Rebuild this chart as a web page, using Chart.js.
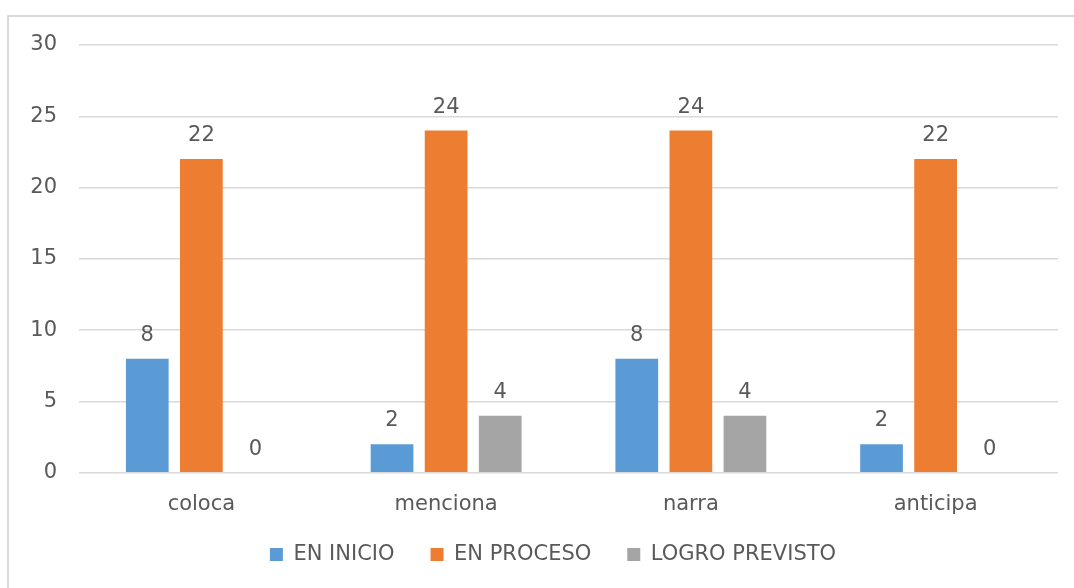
<!DOCTYPE html>
<html>
<head>
<meta charset="utf-8">
<script src="https://cdn.jsdelivr.net/npm/chart.js@4.4.1/dist/chart.umd.min.js"></script>
<style>
  html, body { margin: 0; padding: 0; background: #fff; }
  #wrap { position: relative; width: 1074px; height: 588px; overflow: hidden; }
  #frame { position: absolute; left: 7px; top: 15px; right: -20px; bottom: -20px;
           border-top: 2px solid #d9d9d9; border-left: 2px solid #d9d9d9; pointer-events: none; }
</style>
</head>
<body>
<div id="wrap">
  <canvas id="c" width="1074" height="588"></canvas>
  <div id="frame"></div>
</div>
<script>
const categories = ["coloca", "menciona", "narra", "anticipa"];
const enInicio = [8, 2, 8, 2];
const enProceso = [22, 24, 24, 22];
const logroPrevisto = [0, 4, 4, 0];
const seriesNames = ["EN INICIO", "EN PROCESO", "LOGRO PREVISTO"];
const yTicks = [0, 5, 10, 15, 20, 25, 30];

const TEXT = "#595959";
const FONT = "'DejaVu Sans', sans-serif";
const FS = 21;

const valueLabels = {
  id: "valueLabels",
  afterDatasetsDraw(chart) {
    const ctx = chart.ctx;
    ctx.save();
    ctx.fillStyle = TEXT;
    ctx.font = FS + "px " + FONT;
    ctx.textAlign = "center";
    ctx.textBaseline = "alphabetic";
    chart.data.datasets.forEach((ds, i) => {
      const meta = chart.getDatasetMeta(i);
      meta.data.forEach((el, j) => {
        ctx.fillText(String(ds.data[j]), el.x, el.y - 18);
      });
    });
    ctx.restore();
  }
};

const legendShift = {
  id: "legendShift",
  afterLayout(chart) {
    const l = chart.legend;
    if (l) { l.left += 24; l.right += 24; l.top -= 20; l.bottom -= 20; }
  }
};

new Chart(document.getElementById("c"), {
  type: "bar",
  data: {
    labels: categories,
    datasets: [
      { label: seriesNames[0], data: enInicio, backgroundColor: "#5B9BD5" },
      { label: seriesNames[1], data: enProceso, backgroundColor: "#ED7D31" },
      { label: seriesNames[2], data: logroPrevisto, backgroundColor: "#A5A5A5" }
    ]
  },
  options: {
    responsive: false,
    animation: false,
    events: [],
    categoryPercentage: 0.663,
    barPercentage: 0.79,
    layout: { padding: { top: 45, right: 16, left: 0, bottom: -7 } },
    plugins: {
      tooltip: { enabled: false },
      legend: {
        position: "bottom",
        labels: {
          color: TEXT,
          font: { family: FONT, size: FS },
          boxWidth: 13,
          boxHeight: 13,
          padding: 36
        }
      }
    },
    scales: {
      x: {
        grid: { display: false },
        border: { display: false },
        ticks: { color: TEXT, font: { family: FONT, size: FS }, padding: 11 }
      },
      y: {
        min: 0,
        max: 30,
        afterBuildTicks(scale) { scale.ticks = yTicks.map(v => ({ value: v })); },
        afterFit(scale) { scale.width = 79; },
        grid: { color: "#d9d9d9", lineWidth: 1.5, drawTicks: false },
        border: { display: false },
        ticks: { color: TEXT, font: { family: FONT, size: FS }, padding: 22 }
      }
    }
  },
  plugins: [valueLabels, legendShift]
});
</script>
</body>
</html>
